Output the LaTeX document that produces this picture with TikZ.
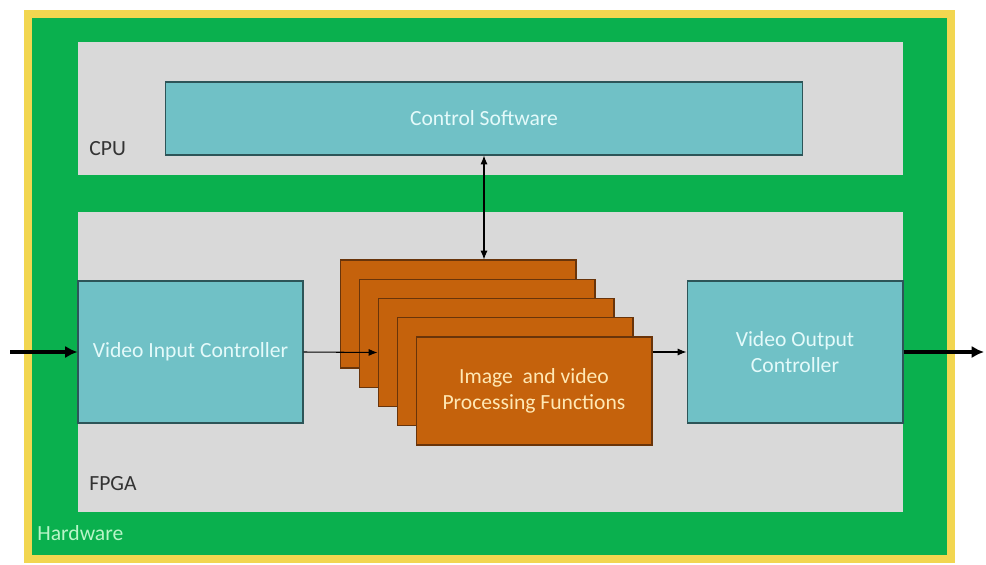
\documentclass[tikz,border=0pt]{standalone}
\usepackage{fontspec}
\setmainfont{Carlito}
\usetikzlibrary{fit,arrows.meta}

\definecolor{hwyellow}{RGB}{242,214,80}
\definecolor{hwgreen}{RGB}{10,176,78}
\definecolor{hwtext}{RGB}{185,245,200}
\definecolor{boxgray}{RGB}{217,217,217}
\definecolor{ctrlteal}{RGB}{112,193,198}
\definecolor{ctrledge}{RGB}{45,85,88}
\definecolor{ctrltext}{RGB}{228,250,250}
\definecolor{procorange}{RGB}{197,98,12}
\definecolor{procedge}{RGB}{105,52,10}
\definecolor{proctext}{RGB}{255,232,180}

\tikzset{
  region/.style={fill=boxgray, inner sep=0pt},
  tealbox/.style={draw=ctrledge, fill=ctrlteal, line width=0.6pt, inner sep=0pt,
    text=ctrltext, align=center, font=\fontsize{12.3}{15}\selectfont},
  procbox/.style={draw=procedge, fill=procorange, line width=0.6pt, inner sep=0pt,
    minimum width=4.72cm, minimum height=2.16cm,
    text=proctext, align=center, font=\fontsize{12.3}{15}\selectfont},
  tag/.style={anchor=west, inner sep=0pt, font=\fontsize{12.3}{14}\selectfont},
  link/.style={-{Latex[length=5pt,width=4pt]}, line width=0.6pt},
  twolink/.style={{Latex[length=5pt,width=4pt]}-{Latex[length=5pt,width=4pt]}, line width=0.6pt},
  biglink/.style={-{Latex[length=7pt,width=7pt]}, line width=2.2pt}
}

\begin{document}
\begin{tikzpicture}[x=0.02cm, y=-0.02cm]

    \useasboundingbox (0,0) rectangle (986,564);

    % hardware frame
    \draw[hwyellow, fill=hwgreen, line width=0.16cm] (28,14) rectangle (951,559);
    \node[tag, text=hwtext] (hwlabel) at (37,533) {Hardware};

    % cpu part
    \node[region, fit={(78,42) (903,175)}] (cpu) {};
    \node[tag, text=black!80] (cpulabel) at (89,149) {CPU};
    \node[tealbox, minimum width=12.76cm, minimum height=1.46cm] (ctrl) at (484,118.5) {Control Software};

    % fpga part
    \node[region, fit={(78,212) (903,512)}] (fpga) {};
    \node[tag, text=black!80] (fpgalabel) at (89,484) {FPGA};
    \node[tealbox, minimum width=4.5cm, minimum height=2.84cm] (vin) at (190.5,352) {Video Input Controller};
    \node[tealbox, minimum width=4.32cm, minimum height=2.84cm] (vout) at (795,352) {Video Output\\Controller};

    % stacked processing blocks
    \foreach \i in {1,...,4}
        \node[procbox] (proc\i) at ({458+(\i-1)*19},{314+(\i-1)*19.25}) {};
    \node[procbox] (proc5) at (534,391) {Image\ \ and video\\Processing Functions};

    % connections
    \coordinate (vidin) at (10,352);
    \coordinate (vidout) at (984,352);
    \draw[biglink] (vidin) -- (vin.west);
    \draw[link] (vin.east) -- (proc3.west);
    \draw[link] (vout.west -| proc5.east) -- (vout.west);
    \draw[biglink] (vout.east) -- (vidout);
    \draw[twolink] (ctrl.south) -- (ctrl.south |- proc1.north);

\end{tikzpicture}
\end{document}
